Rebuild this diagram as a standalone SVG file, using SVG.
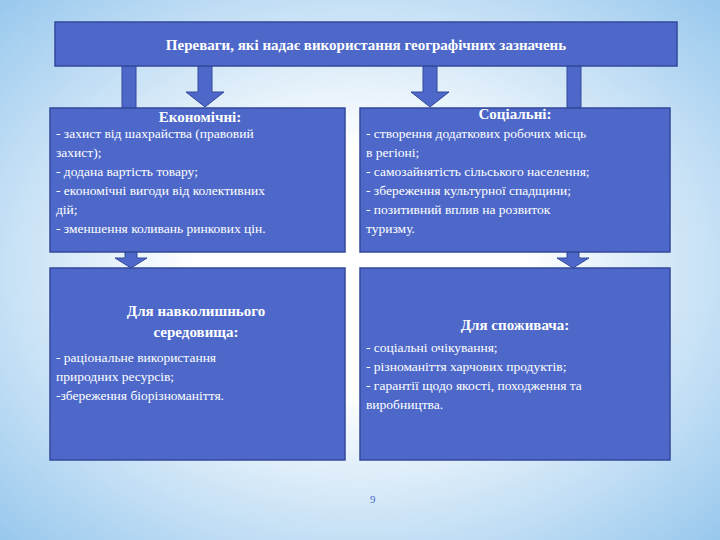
<svg xmlns="http://www.w3.org/2000/svg" width="720" height="540" viewBox="0 0 720 540">
<defs>
<radialGradient id="bg" cx="50%" cy="50%" r="75%">
<stop offset="0.3" stop-color="#ffffff"/><stop offset="1" stop-color="#8fc3ec"/>
</radialGradient>
<style>
.box{fill:#4d68c9;stroke:#33489a;stroke-width:1.5}
.arr{fill:#4d68c9;stroke:#33489a;stroke-width:1}
text{font-family:"Liberation Serif",serif;fill:#fff}
.h{font-size:15px;font-weight:bold;text-anchor:middle}
.t{font-size:13.5px}
</style>
</defs>
<rect width="720" height="540" fill="url(#bg)"/>
<g id="connectors">
<rect class="arr" x="122" y="66" width="14" height="42"/>
<rect class="arr" x="567" y="66" width="14" height="42"/>
<path class="arr" d="M198 66h14v26h12l-19 15l-19-15h12z"/>
<path class="arr" d="M423 66h14v26h12l-19 15l-19-15h12z"/>
<path class="arr" d="M125 252h12v6h10l-16 10l-16-10h10z"/>
<path class="arr" d="M567 252h12v6h10l-16 10l-16-10h10z"/>
</g>
<g id="top">
<rect class="box" x="55" y="22" width="622" height="44"/>
<text class="h" x="366" y="50">Переваги, які надає використання географічних зазначень</text>
</g>
<g id="econ">
<rect class="box" x="50" y="108" width="295" height="144"/>
<text class="h" x="200" y="122">Економічні:</text>
<text class="t" x="56" y="138">- захист від шахрайства (правовий</text>
<text class="t" x="56" y="157">захист);</text>
<text class="t" x="56" y="176">- додана вартість товару;</text>
<text class="t" x="56" y="195">- економічні вигоди від колективних</text>
<text class="t" x="56" y="214">дій;</text>
<text class="t" x="56" y="233">- зменшення коливань ринкових цін.</text>
</g>
<g id="soc">
<rect class="box" x="360" y="108" width="310" height="144"/>
<text class="h" x="515" y="119">Соціальні:</text>
<text class="t" x="366" y="138">- створення додаткових робочих місць</text>
<text class="t" x="366" y="157">в регіоні;</text>
<text class="t" x="366" y="176">- самозайнятість сільського населення;</text>
<text class="t" x="366" y="195">- збереження культурної спадщини;</text>
<text class="t" x="366" y="214">-  позитивний  вплив  на  розвиток</text>
<text class="t" x="366" y="233">туризму.</text>
</g>
<g id="env">
<rect class="box" x="50" y="268" width="295" height="192"/>
<text class="h" x="196" y="316">Для навколишнього</text>
<text class="h" x="196" y="337">середовища:</text>
<text class="t" x="56" y="362">   -   раціональне    використання</text>
<text class="t" x="56" y="381">природних ресурсів;</text>
<text class="t" x="56" y="400">-збереження біорізноманіття.</text>
</g>
<g id="cons">
<rect class="box" x="360" y="268" width="310" height="192"/>
<text class="h" x="515" y="330">Для споживача:</text>
<text class="t" x="366" y="352">- соціальні очікування;</text>
<text class="t" x="366" y="371">- різноманіття харчових продуктів;</text>
<text class="t" x="366" y="390">- гарантії щодо якості, походження та</text>
<text class="t" x="366" y="409">виробництва.</text>
</g>
<text x="370" y="503" font-size="11" style="fill:#4d68c9">9</text>
</svg>
